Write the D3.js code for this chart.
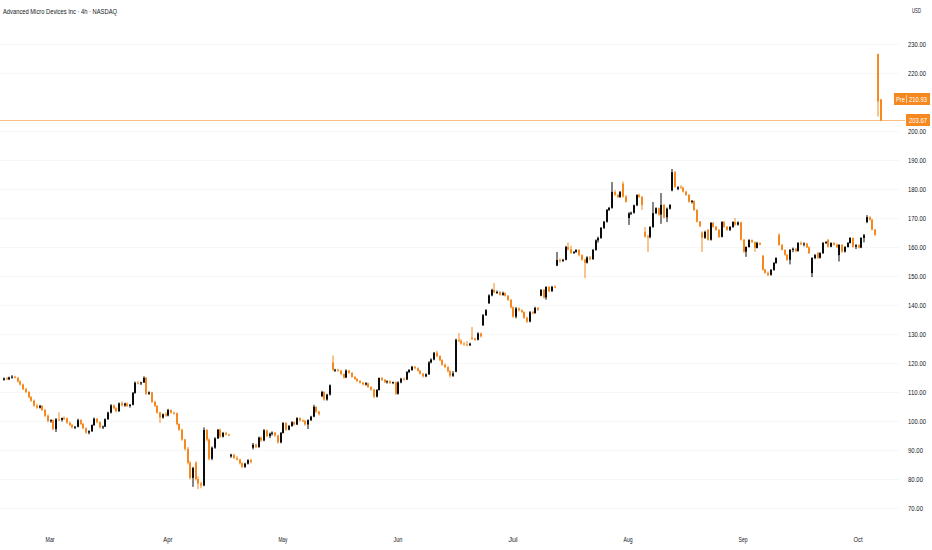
<!DOCTYPE html>
<html>
<head>
<meta charset="utf-8">
<script src="https://cdn.jsdelivr.net/npm/d3@7"></script>
<style>
  body { margin: 0; background: #fff; }
  svg { display: block; font-family: "Liberation Sans", Arial, sans-serif; }
</style>
</head>
<body>
<svg id="chart" width="932" height="550"></svg>
<script>
// 4h candles, one array per month: [open, high, low, close]
var feb = [
  [114.2,115.0,113.9,114.7],[114.7,115.1,114.2,114.4],[114.4,115.3,114.1,115.0],[115.0,115.8,114.6,115.3],
  [115.3,115.6,114.7,114.9],[114.9,115.2,113.3,113.6],[113.6,114.0,112.2,112.6],[112.6,112.9,110.6,111.0],
  [111.0,111.5,109.6,110.0],[110.0,110.3,107.8,108.2],[108.2,108.6,106.6,107.0],[107.0,107.4,104.9,105.3],
  [105.3,105.9,104.2,104.6],[104.6,105.6,104.3,105.2],[105.2,105.5,103.4,103.8],[103.8,104.2,101.4,101.8],
  [101.8,102.3,99.5,100.0]
];
var mar = [
  [100.0,100.6,99.4,100.3],[100.3,100.5,96.8,97.2],[97.2,101.0,96.2,100.6],[100.6,103.0,100.0,100.4],
  [100.4,101.2,99.8,101.0],[101.0,101.6,100.3,100.9],[100.9,101.2,99.0,99.4],[99.4,99.8,98.2,98.6],
  [98.6,99.0,97.4,97.8],[97.8,98.3,97.2,98.0],[98.0,100.8,97.8,100.3],[100.3,100.6,98.6,99.0],
  [99.0,99.3,97.2,97.5],[97.5,97.8,95.6,96.0],[96.0,96.8,95.4,96.5],[96.5,98.8,96.2,98.6],
  [98.6,101.2,98.3,100.8],[100.8,101.0,99.2,99.6],[99.6,99.9,97.4,97.8],[97.8,98.4,97.2,98.1],
  [98.1,100.9,97.9,100.6],[100.6,103.2,100.4,102.9],[102.9,105.8,102.6,105.4],[105.4,105.7,104.0,104.4],
  [104.4,104.8,103.0,103.4],[103.4,106.4,103.1,106.1],[106.1,106.8,105.0,105.4],[105.4,106.3,104.9,106.0],
  [106.0,106.4,104.8,105.2],[105.2,105.9,104.6,105.6],[105.6,110.0,105.4,109.7],[109.7,113.6,109.4,113.2],
  [113.2,113.8,112.6,113.0],[113.0,113.5,112.4,113.3],[113.3,115.4,113.1,114.9],[114.9,115.2,109.0,109.4],
  [109.4,110.2,109.0,109.9],[109.9,110.1,106.2,106.6],[106.6,107.0,104.8,105.2],[105.2,105.5,102.5,102.9],
  [102.9,103.2,99.3,101.2],[101.2,102.6,100.8,102.3],[102.3,103.0,101.5,101.9]
];
var apr = [
  [101.9,104.2,101.6,103.8],[103.8,104.0,102.5,102.9],[102.9,103.2,102.2,102.7],[102.7,102.9,98.5,99.0],
  [99.0,99.2,96.6,97.0],[97.0,97.3,93.2,93.6],[93.6,93.9,89.8,90.4],[90.4,91.0,85.0,85.6],
  [85.6,86.2,79.8,80.4],[80.4,84.2,77.3,83.8],[85.6,86.2,79.5,80.0],[80.0,80.9,76.5,78.4],
  [78.4,79.0,76.8,77.8],[77.8,97.8,77.5,96.9],[96.9,97.2,93.0,93.6],[93.6,94.0,86.4,87.0],
  [87.0,91.2,86.5,90.8],[90.8,94.4,90.4,94.0],[94.0,97.2,93.8,97.0],[97.0,97.4,94.2,94.6],
  [94.6,96.2,94.3,95.9],[95.9,96.3,95.0,95.3],[95.3,95.6,94.8,95.2],[87.8,88.7,87.3,88.4],
  [88.4,88.6,86.9,87.2],[87.2,88.0,86.4,86.7],[86.7,87.0,85.0,85.4],[85.4,85.8,83.7,84.2],
  [84.2,85.6,83.8,85.3],[85.3,86.8,85.0,86.5],[86.5,87.0,85.4,85.8],[90.8,92.4,90.2,91.8],
  [91.8,92.2,90.6,91.0],[91.0,94.6,90.8,94.3],[94.3,94.6,92.8,93.3],[93.3,97.2,93.0,96.8],
  [96.8,97.0,94.4,94.8],[94.8,96.0,94.1,95.6],[95.6,96.4,95.0,96.0],[96.0,96.2,94.6,95.0],
  [95.0,95.3,92.2,92.6],[92.6,96.2,92.3,95.9]
];
var may = [
  [95.9,99.6,95.7,99.3],[99.3,99.6,96.6,97.0],[97.0,98.6,96.8,98.3],[98.3,99.9,98.0,99.6],
  [99.6,99.8,98.4,98.8],[98.8,101.3,98.6,101.0],[101.0,101.3,99.8,100.2],[100.2,100.5,99.6,100.0],
  [100.0,100.4,98.4,98.8],[98.8,100.6,97.2,100.3],[100.3,101.8,100.0,101.5],[101.5,105.6,101.3,104.9],
  [104.9,105.0,102.8,103.2],[103.2,103.5,101.9,102.4],[108.6,110.4,108.2,110.0],[110.0,110.3,107.0,107.4],
  [107.4,109.4,107.0,109.1],[109.1,112.6,108.8,112.3],[120.2,122.6,117.2,117.7],[117.4,118.0,116.9,117.7],
  [117.7,118.0,117.0,117.4],[117.4,117.6,115.8,116.2],[116.2,116.4,114.6,115.0],[115.0,117.8,114.8,117.4],
  [117.4,117.6,116.3,116.6],[116.6,116.8,114.9,115.2],[115.2,115.5,114.2,114.5],[114.5,114.8,113.4,113.8],
  [113.8,114.1,112.9,113.2],[113.2,113.5,112.3,112.6],[112.6,113.4,112.2,113.0],[113.0,113.2,111.4,111.7],
  [111.7,112.0,110.4,110.9],[110.9,111.0,107.9,108.4],[108.4,111.0,108.1,110.7],[110.7,115.0,110.5,114.8],
  [114.8,115.2,113.8,114.2],[114.2,114.5,113.1,113.4],[113.4,114.0,112.9,113.7],[113.7,114.0,112.8,113.1],
  [113.1,113.6,112.7,113.4],[113.4,113.6,109.0,109.4]
];
var jun = [
  [109.4,113.7,109.1,113.3],[113.3,114.9,113.0,114.6],[114.6,115.0,113.9,114.3],[114.3,117.2,114.1,116.9],
  [116.9,117.9,116.5,117.6],[117.6,119.0,117.3,118.7],[118.7,119.0,117.8,118.2],[118.2,118.5,117.0,117.3],
  [117.3,117.6,116.0,116.3],[116.3,116.6,115.0,115.4],[115.4,116.4,115.1,116.1],[116.1,120.6,115.9,120.2],
  [120.2,121.6,119.9,121.2],[121.2,123.8,120.9,123.5],[123.5,124.2,122.0,122.4],[122.4,122.7,120.6,121.0],
  [121.0,121.3,119.0,119.4],[119.4,119.8,118.2,118.6],[118.6,118.9,116.8,117.2],[117.2,117.5,115.0,115.6],
  [115.6,117.2,115.2,116.4],[117.0,128.4,116.8,128.0],[128.0,130.3,127.2,127.6],[127.6,128.2,126.3,126.7],
  [126.7,127.2,126.0,126.4],[126.4,127.6,125.8,126.1],[126.1,127.0,125.9,126.7],[128.8,132.4,128.0,128.4],
  [128.4,128.7,127.6,128.0],[128.0,130.6,127.8,130.2],[130.2,130.5,128.8,129.2],[133.0,136.9,132.8,136.5],
  [136.5,138.6,136.2,138.2],[140.6,143.7,140.4,143.3],[143.3,145.6,143.0,145.2],[145.2,147.6,144.0,144.4],
  [144.4,145.0,143.8,144.5],[144.5,144.8,143.2,143.5],[143.5,144.6,143.2,144.1],[144.1,144.3,142.9,143.2],
  [143.2,143.4,141.4,141.8],[141.8,142.0,138.8,139.2]
];
var jul = [
  [139.2,139.5,135.6,136.0],[136.0,139.3,135.4,138.8],[138.8,139.2,137.8,138.2],[138.2,138.5,137.2,137.6],
  [137.6,137.8,135.2,135.6],[135.6,136.0,133.8,134.3],[134.3,137.9,134.0,137.5],[137.5,137.9,136.8,137.2],
  [137.2,139.4,137.0,139.0],[139.0,139.3,138.0,138.4],[143.2,145.5,143.0,145.2],[145.2,145.5,142.2,142.6],
  [142.6,146.5,141.8,146.2],[146.2,146.5,144.4,144.8],[144.8,146.6,144.5,146.3],[146.3,146.8,145.8,146.1],
  [153.6,158.3,153.4,155.5],[155.5,156.0,154.6,155.2],[155.2,155.9,154.8,155.6],[155.6,160.4,155.4,160.0],
  [160.0,161.6,158.8,159.2],[159.2,160.4,157.6,158.0],[158.0,158.6,157.6,158.3],[158.3,159.2,158.0,159.0],
  [159.0,159.3,156.8,157.2],[157.2,157.5,155.3,155.6],[155.6,156.0,149.3,154.6],[154.6,156.8,154.3,156.4],
  [156.4,156.9,155.4,155.8],[155.8,159.3,155.6,159.0],[159.0,162.6,158.7,162.3],[162.3,163.6,161.5,163.1],
  [163.1,166.9,162.8,166.6],[166.6,169.0,166.2,168.7],[168.7,173.1,168.4,172.8],[172.8,173.8,172.4,173.5],
  [173.5,182.4,173.2,179.0],[179.0,179.6,177.6,178.0],[178.0,178.3,176.9,177.2],[177.2,179.3,177.0,179.0],
  [181.8,182.6,177.0,177.4],[177.4,177.9,175.3,175.6]
];
var aug = [
  [170.0,172.0,167.6,171.6],[171.6,172.2,171.0,171.8],[171.8,174.6,171.5,174.4],[174.4,178.2,174.1,177.9],
  [177.9,178.4,177.0,177.3],[177.3,177.6,172.8,174.5],[165.2,166.9,163.2,163.6],[163.6,164.2,158.3,163.4],
  [163.4,167.2,163.0,166.9],[166.9,175.5,166.6,171.7],[171.7,173.7,171.3,173.4],[173.4,173.6,170.8,171.2],
  [171.2,178.6,168.0,174.5],[174.5,174.8,169.8,170.2],[170.2,173.6,168.6,173.2],[173.2,174.8,172.9,174.5],
  [179.5,186.9,179.2,185.8],[185.8,186.2,180.4,180.8],[180.0,181.0,179.6,180.6],[180.6,181.4,180.2,180.4],
  [180.4,180.8,178.8,179.1],[179.1,179.4,177.6,178.0],[178.0,178.2,175.3,175.6],[175.6,176.2,175.0,175.9],
  [175.9,176.0,172.4,172.8],[172.8,173.0,168.4,168.8],[168.8,169.0,166.8,167.2],[165.0,165.4,158.3,163.2],
  [163.2,165.6,162.8,165.2],[165.9,166.2,162.2,162.5],[162.5,168.6,162.2,168.3],[168.3,168.6,166.6,167.0],
  [167.0,167.3,165.6,165.9],[165.9,166.2,163.1,163.5],[163.5,168.9,163.3,168.6],[168.6,169.0,166.6,167.0],
  [167.0,167.2,165.6,165.9],[165.9,167.2,165.5,166.9],[166.9,168.9,166.6,168.6],[168.6,170.0,167.3,167.7],
  [167.7,168.8,167.4,168.5],[168.5,168.7,162.2,162.5]
];
var sep = [
  [162.5,162.8,158.0,158.4],[158.4,160.2,156.6,160.0],[160.0,162.7,159.8,162.4],[162.4,162.6,161.4,161.7],
  [161.7,161.9,158.3,159.7],[159.7,161.8,159.5,161.4],[161.4,161.6,160.6,160.9],[157.0,157.2,151.8,152.2],
  [152.2,152.5,150.8,151.1],[151.1,151.6,149.9,150.4],[150.4,152.4,150.1,152.1],[152.1,154.8,151.8,154.5],
  [154.5,156.5,154.2,156.2],[164.1,164.8,160.4,160.7],[160.7,161.0,158.8,159.0],[159.0,159.2,157.0,157.3],
  [157.3,157.6,155.2,155.6],[155.6,159.3,154.0,159.0],[159.0,159.8,158.2,159.4],[159.4,159.7,158.2,158.6],
  [158.6,161.7,158.4,161.4],[161.4,161.9,160.6,160.9],[160.9,161.6,160.2,161.2],[161.2,161.4,159.6,159.9],
  [159.9,160.2,157.6,157.9],[151.0,156.5,149.6,156.2],[156.2,157.6,155.8,157.2],[157.9,158.3,155.9,156.3],
  [156.3,158.2,156.0,157.9],[157.9,161.7,157.6,161.4],[161.4,162.0,161.0,161.7],[162.4,162.8,159.8,160.1],
  [160.1,161.6,159.9,161.4],[161.4,161.7,160.5,160.8],[160.8,161.2,159.6,159.9],[157.2,161.0,155.0,160.7],
  [160.7,161.0,158.0,158.4],[158.4,160.3,158.1,160.0],[160.0,161.7,159.8,161.4],[161.4,163.4,161.2,163.1],
  [163.1,163.3,159.8,160.1],[160.1,161.0,159.3,160.6]
];
var oct = [
  [160.6,160.9,159.5,159.8],[159.8,163.4,159.6,163.1],[163.1,164.5,161.6,164.1],[168.6,171.0,168.2,170.3],
  [170.3,170.6,169.1,169.4],[169.4,169.8,165.7,166.0],[166.0,166.2,163.8,164.2],[226.5,226.7,205.0,210.2],
  [210.9,211.0,203.4,203.67]
];

var monthNames = ["Mar", "Apr", "May", "Jun", "Jul", "Aug", "Sep", "Oct"];
// 210.00 sits under the pre-market label, so the axis skips it
var priceTicks = [70, 80, 90, 100, 110, 120, 130, 140, 150, 160, 170, 180, 190, 200, 220, 230];
var lastPrice = 203.67;
var prePrice = 210.93;

var upColor = "#0b0b0b", downColor = "#f5891f", textColor = "#131722";
var charW = 3; // the reference uses a narrow face, about 3px per glyph

var months = [feb, mar, apr, may, jun, jul, aug, sep, oct];
var bars = [].concat.apply([], months);

// first bar index of each month after Feb
var monthStarts = [];
var acc = feb.length;
for (var m = 1; m < months.length; m++) { monthStarts.push(acc); acc += months[m].length; }

var svg = d3.select("#chart");

var x = d3.scaleLinear().domain([0, bars.length - 1]).range([3, 879.5]);
var y = d3.scaleLinear().domain([70, 230]).range([508, 44]);

function narrow(sel) {
  sel.attr("textLength", function() { return this.textContent.length * charW; })
     .attr("lengthAdjust", "spacingAndGlyphs");
}

// horizontal grid, barely visible
svg.append("g").selectAll("line").data(priceTicks).enter().append("line")
  .attr("x1", 0).attr("x2", 900)
  .attr("y1", function(d) { return Math.round(y(d)) + 0.5; })
  .attr("y2", function(d) { return Math.round(y(d)) + 0.5; })
  .attr("stroke", "#f6f7f9");

// last price line
svg.append("line")
  .attr("x1", 0).attr("x2", 905)
  .attr("y1", Math.round(y(lastPrice)) + 0.5).attr("y2", Math.round(y(lastPrice)) + 0.5)
  .attr("stroke", downColor).attr("stroke-opacity", 0.55);

// candles
var candles = svg.append("g").selectAll("g").data(bars).enter().append("g");
candles.append("line")
  .attr("x1", function(d, i) { return Math.round(x(i)) + 1; })
  .attr("x2", function(d, i) { return Math.round(x(i)) + 1; })
  .attr("y1", function(d) { return y(d[1]); })
  .attr("y2", function(d) { return y(d[2]); })
  .attr("stroke", function(d) { return d[3] >= d[0] ? upColor : downColor; })
  .attr("stroke-width", 1);
candles.append("rect")
  .attr("x", function(d, i) { return Math.round(x(i)); })
  .attr("width", 2)
  .attr("y", function(d) { return y(Math.max(d[0], d[3])); })
  .attr("height", function(d) { return Math.max(1, Math.abs(y(d[0]) - y(d[3]))); })
  .attr("fill", function(d) { return d[3] >= d[0] ? upColor : downColor; });

// price axis
var yAxis = svg.append("g")
  .attr("transform", "translate(904,0)")
  .call(d3.axisRight(y).tickValues(priceTicks).tickSize(0).tickPadding(4).tickFormat(d3.format(".2f")));
yAxis.select(".domain").remove();
yAxis.selectAll("text").attr("fill", textColor).attr("font-size", 7.5).attr("font-family", null).call(narrow);

// time axis
var xAxis = svg.append("g")
  .attr("transform", "translate(0,535)")
  .call(d3.axisBottom(x).tickValues(monthStarts).tickSize(0).tickPadding(2)
    .tickFormat(function(d, i) { return monthNames[i]; }));
xAxis.select(".domain").remove();
xAxis.selectAll("text").attr("fill", textColor).attr("font-size", 7.5).attr("font-family", null).call(narrow);

// price labels
var yl = Math.round(y(lastPrice));
svg.append("rect").attr("x", 906).attr("y", yl - 6).attr("width", 24).attr("height", 12).attr("fill", downColor);
svg.append("text").attr("x", 918).attr("y", yl + 3).attr("text-anchor", "middle")
  .attr("fill", "#fff").attr("font-size", 7.5).text(lastPrice.toFixed(2)).call(narrow);

var yp = Math.round(y(prePrice));
svg.append("rect").attr("x", 894).attr("y", yp - 6).attr("width", 36).attr("height", 12).attr("fill", downColor);
svg.append("line").attr("x1", 906.5).attr("x2", 906.5).attr("y1", yp - 4).attr("y2", yp + 4)
  .attr("stroke", "#fff").attr("stroke-opacity", 0.6);
svg.append("text").attr("x", 900.5).attr("y", yp + 3).attr("text-anchor", "middle")
  .attr("fill", "#fff").attr("font-size", 7.5).text("Pre").call(narrow);
svg.append("text").attr("x", 918).attr("y", yp + 3).attr("text-anchor", "middle")
  .attr("fill", "#fff").attr("font-size", 7.5).text(prePrice.toFixed(2)).call(narrow);

// header
svg.append("text").attr("x", 3).attr("y", 14).attr("fill", textColor).attr("font-size", 7.5)
  .attr("textLength", 114).attr("lengthAdjust", "spacingAndGlyphs")
  .text("Advanced Micro Devices Inc · 4h · NASDAQ");
svg.append("text").attr("x", 912).attr("y", 13).attr("fill", textColor).attr("font-size", 7.5)
  .text("USD").call(narrow);
</script>
</body>
</html>
